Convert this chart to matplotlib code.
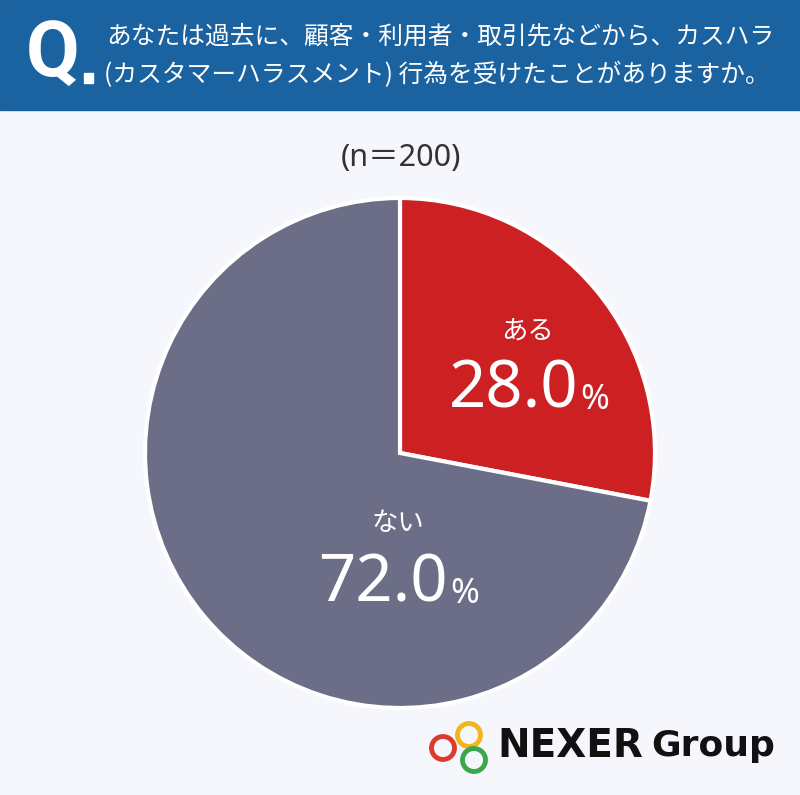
import matplotlib
matplotlib.use("Agg")
import matplotlib.pyplot as plt
from matplotlib.patches import Rectangle, Circle

plt.rcParams['font.family'] = ['Noto Sans CJK JP', 'DejaVu Sans']

labels = ["ある", "ない"]
values = [28.0, 72.0]
colors = ["#cc2022", "#6b6e86"]
question_lines = ["あなたは過去に、顧客・利用者・取引先などから、カスハラ",
                  "(カスタマーハラスメント) 行為を受けたことがありますか。"]
sample = "(n＝200)"

W, H = 800, 795
fig = plt.figure(figsize=(W / 100, H / 100), dpi=100)
fig.patch.set_facecolor("#f5f7fc")

bg = fig.add_axes([0, 0, 1, 1], zorder=0)
bg.set_xlim(0, W)
bg.set_ylim(H, 0)
bg.axis("off")

# header band
bg.add_patch(Rectangle((0, 0), W, 110, color="#1b62a1", zorder=0))
bg.text(26, 56, "Q", color="white", fontsize=56, fontweight="bold",
        va="center", ha="left", family=["Roboto", "DejaVu Sans"])
bg.add_patch(Rectangle((84, 73), 9, 10, color="white"))
bg.text(106, 36, question_lines[0], color="white", fontsize=17.8, va="center", ha="left")
bg.text(104, 75, question_lines[1], color="white", fontsize=17.8, va="center", ha="left")

bg.text(401, 158, sample, color="#333333", fontsize=22, va="center", ha="center",
        family=["Noto Sans", "Noto Sans CJK JP"])

# pie
cx, cy, r = 400, 453, 255
pax = fig.add_axes([(cx - r) / W, (H - cy - r) / H, 2 * r / W, 2 * r / H], zorder=1)
pax.pie(values, colors=colors, startangle=90, counterclock=False,
        wedgeprops=dict(edgecolor="white", linewidth=3))
pax.set_xlim(-1, 1)
pax.set_ylim(-1, 1)
pax.set_aspect("auto")
pax.axis("off")

# overlay for labels and logo
ov = fig.add_axes([0, 0, 1, 1], zorder=2)
ov.set_xlim(0, W)
ov.set_ylim(H, 0)
ov.axis("off")
ov.patch.set_alpha(0)

num_font = ["Noto Sans", "DejaVu Sans"]
ov.text(527, 331, labels[0], color="white", fontsize=19, va="center", ha="center")
ov.text(578, 391, f"{values[0]:.1f}", color="white", fontsize=47, va="center", ha="right",
        family=num_font)
ov.text(580, 400, "%", color="white", fontsize=25, va="center", ha="left", family=num_font)
ov.text(398, 524, labels[1], color="white", fontsize=19, va="center", ha="center")
ov.text(448, 585, f"{values[1]:.1f}", color="white", fontsize=47, va="center", ha="right",
        family=num_font)
ov.text(450, 594, "%", color="white", fontsize=25, va="center", ha="left", family=num_font)

# logo
for (x, y, c) in [(443, 748, "#dc3c2e"), (469, 735, "#f2b51c"), (474, 760, "#3aa74a")]:
    ov.add_patch(Circle((x, y), 11.5, fill=False, edgecolor=c, linewidth=3.5))
ov.text(497, 746, "NEXER", color="#111111", fontsize=28, fontweight="bold",
        va="center", ha="left", family="DejaVu Sans")
ov.text(651, 746, "Group", color="#111111", fontsize=26, fontweight="bold",
        va="center", ha="left", family="DejaVu Sans")

fig.savefig("out.png", dpi=100, facecolor=fig.get_facecolor())
